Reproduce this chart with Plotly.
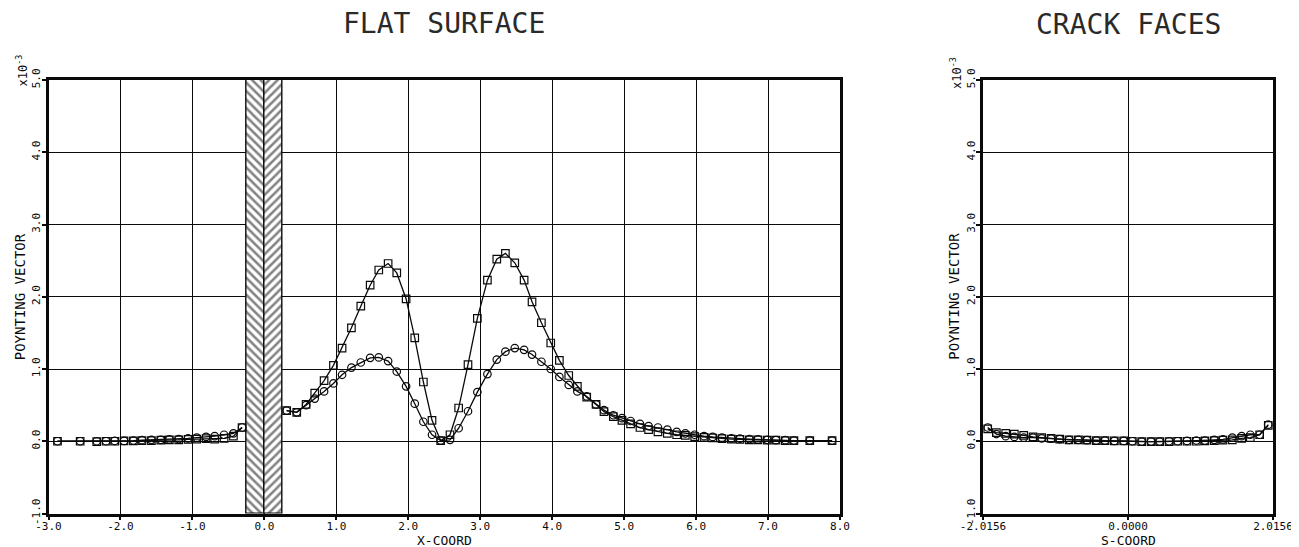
import plotly.graph_objects as go

# ---------------- data (values in units of 1e-3) ----------------
X_FLAT = [-2.875, -2.56, -2.33, -2.20, -2.08, -1.95, -1.82, -1.70, -1.57, -1.44,
          -1.32, -1.19, -1.06, -0.94, -0.81, -0.69, -0.56, -0.43, -0.31,
          0.31, 0.45, 0.58, 0.70, 0.83, 0.96, 1.08, 1.21, 1.34, 1.47,
          1.59, 1.72, 1.84, 1.97, 2.09, 2.21, 2.33, 2.45, 2.58, 2.70,
          2.83, 2.96, 3.10, 3.23, 3.35, 3.48, 3.61, 3.72, 3.85, 3.98,
          4.10, 4.23, 4.35, 4.48, 4.61, 4.72, 4.85, 4.97, 5.09, 5.22,
          5.34, 5.47, 5.60, 5.73, 5.85, 5.98, 6.11, 6.23, 6.36, 6.49,
          6.61, 6.74, 6.86, 6.99, 7.11, 7.24, 7.36, 7.58, 7.89]

SQ_FLAT = [0.0, 0.0, -0.005, 0.0, 0.0, 0.005, 0.005, 0.01, 0.01, 0.015,
           0.02, 0.02, 0.025, 0.03, 0.035, 0.03, 0.04, 0.07, 0.19,
           0.425, 0.40, 0.51, 0.665, 0.84, 1.05, 1.29, 1.57, 1.87, 2.16,
           2.37, 2.46, 2.33, 1.97, 1.43, 0.82, 0.29, 0.01, 0.09, 0.46,
           1.06, 1.70, 2.23, 2.52, 2.60, 2.47, 2.23, 1.93, 1.64, 1.36,
           1.12, 0.91, 0.76, 0.61, 0.51, 0.41, 0.34, 0.29, 0.24, 0.19,
           0.16, 0.13, 0.11, 0.09, 0.08, 0.065, 0.055, 0.045, 0.035, 0.03,
           0.025, 0.02, 0.02, 0.015, 0.015, 0.01, 0.01, 0.01, 0.01]

CI_FLAT = [0.0, 0.0, 0.0, 0.0, 0.005, 0.005, 0.01, 0.015, 0.02, 0.02,
           0.025, 0.03, 0.04, 0.05, 0.06, 0.07, 0.09, 0.11, 0.19,
           0.425, 0.40, 0.50, 0.59, 0.69, 0.80, 0.92, 1.02, 1.09, 1.155,
           1.16, 1.11, 0.965, 0.76, 0.52, 0.27, 0.09, 0.01, 0.02, 0.18,
           0.415, 0.68, 0.93, 1.13, 1.24, 1.29, 1.265, 1.20, 1.10, 1.00,
           0.89, 0.78, 0.69, 0.62, 0.51, 0.43, 0.36, 0.32, 0.28, 0.24,
           0.21, 0.19, 0.16, 0.13, 0.11, 0.09, 0.07, 0.06, 0.05, 0.04,
           0.035, 0.03, 0.025, 0.02, 0.015, 0.015, 0.01, 0.01, 0.01]

X_CRACK = [-1.95, -1.83, -1.70, -1.58, -1.45, -1.32, -1.20, -1.07, -0.95, -0.82,
           -0.69, -0.57, -0.44, -0.32, -0.19, -0.06, 0.06, 0.19, 0.32, 0.44,
           0.57, 0.69, 0.82, 0.95, 1.07, 1.20, 1.32, 1.45, 1.58, 1.70,
           1.83, 1.95]
SQ_CRACK = [0.17, 0.12, 0.11, 0.10, 0.08, 0.06, 0.05, 0.04, 0.03, 0.02,
            0.02, 0.015, 0.01, 0.01, 0.005, 0.005, 0.0, -0.005, -0.005, -0.005,
            -0.005, 0.0, 0.0, 0.0, 0.005, 0.01, 0.015, 0.02, 0.04, 0.05,
            0.09, 0.22]
CI_CRACK = [0.19, 0.10, 0.07, 0.06, 0.05, 0.05, 0.04, 0.035, 0.03, 0.02,
            0.02, 0.015, 0.01, 0.01, 0.005, 0.005, 0.0, -0.005, -0.005, -0.005,
            0.0, 0.0, 0.005, 0.01, 0.01, 0.02, 0.025, 0.05, 0.07, 0.09,
            0.09, 0.23]

# crack zone (hatched band) on the flat surface
CRACK_CENTER = 0.0
CRACK_HALVES = [-0.125, 0.125]
CRACK_HALF_W = 0.25
CRACK_PATTERNS = ["\\", "/"]

X_TICKS_FLAT = [-3, -2, -1, 0, 1, 2, 3, 4, 5, 6, 7, 8]
X_TICKTEXT_FLAT = ["-3.0", "-2.0", "-1.0", "0.0", "1.0", "2.0", "3.0", "4.0", "5.0", "6.0", "7.0", "8.0"]
X_TICKS_CRACK = [-2.0156, 0.0, 2.0156]
X_TICKTEXT_CRACK = ["-2.0156", "0.0000", "2.0156"]
Y_TICKS = [-1, 0, 1, 2, 3, 4, 5]
Y_TICKTEXT = ["-1.0", "0.0", "1.0", "2.0", "3.0", "4.0", "5.0"]

# ---------------- figure ----------------
PAGE_MARGIN = 8            # default body margin of the html page
WIN_W, WIN_H = 1299, 547
W, H = WIN_W - PAGE_MARGIN, WIN_H - PAGE_MARGIN
FONT = "DejaVu Sans Mono"
INK = "#0a0a0a"

fig = go.Figure()

line_style = dict(color=INK, width=1.3)
sq_marker = dict(symbol="square-open", size=7.5, color=INK, line=dict(width=1.2, color=INK))
ci_marker = dict(symbol="circle-open", size=7.5, color=INK, line=dict(width=1.2, color=INK))

# hatched crack band
fig.add_trace(go.Bar(x=CRACK_HALVES, y=[6, 6], base=[-1, -1], width=CRACK_HALF_W,
                     marker=dict(color="white", line=dict(color=INK, width=1.4),
                                 pattern=dict(shape=CRACK_PATTERNS, fgcolor=INK, bgcolor="white",
                                              size=6, solidity=0.42, fillmode="overlay")),
                     xaxis="x", yaxis="y", showlegend=False, hoverinfo="skip"))

# flat-surface curves: one piece on each side of the crack
split = next(i for i, v in enumerate(X_FLAT) if v > CRACK_CENTER)
for ys, mk in ((SQ_FLAT, sq_marker), (CI_FLAT, ci_marker)):
    for sl in (slice(0, split), slice(split, None)):
        fig.add_trace(go.Scatter(x=X_FLAT[sl], y=ys[sl], mode="lines+markers", line=line_style,
                                 marker=mk, xaxis="x", yaxis="y", showlegend=False))

fig.add_trace(go.Scatter(x=X_CRACK, y=SQ_CRACK, mode="lines+markers", line=line_style,
                         marker=sq_marker, xaxis="x2", yaxis="y2", showlegend=False))
fig.add_trace(go.Scatter(x=X_CRACK, y=CI_CRACK, mode="lines+markers", line=line_style,
                         marker=ci_marker, xaxis="x2", yaxis="y2", showlegend=False))

# target pixel positions in the browser window
L1, R1 = 48.5, 840.0
L2, R2 = 983.0, 1273.0
TOP, BOT = 80.0, 513.5

def px_x(p):
    return (p - PAGE_MARGIN) / W

def px_y(p):
    return 1 - (p - PAGE_MARGIN) / H

tickfont = dict(family=FONT, size=11, color=INK)
axis_common = dict(showline=True, linewidth=2.5, linecolor=INK, mirror=True,
                   showgrid=True, gridcolor=INK, gridwidth=1.2,
                   zeroline=True, zerolinecolor=INK, zerolinewidth=1.2,
                   ticks="outside", ticklen=4, tickwidth=1.5, tickcolor=INK,
                   ticklabelstandoff=-3,
                   tickfont=tickfont, fixedrange=True, automargin=False)

fig.update_layout(
    width=W, height=H,
    margin=dict(l=0, r=0, t=0, b=0, autoexpand=False),
    paper_bgcolor="white", plot_bgcolor="white",
    bargap=0,
    xaxis=dict(domain=[px_x(L1), px_x(R1)], range=[-3, 8], anchor="y",
               tickmode="array", tickvals=X_TICKS_FLAT, ticktext=X_TICKTEXT_FLAT,
               **axis_common),
    yaxis=dict(domain=[px_y(BOT), px_y(TOP)], range=[-1, 5], anchor="x",
               tickmode="array", tickvals=Y_TICKS, ticktext=Y_TICKTEXT, tickangle=-90,
               **axis_common),
    xaxis2=dict(domain=[px_x(L2), px_x(R2)], range=[-2.0156, 2.0156], anchor="y2",
                tickmode="array", tickvals=X_TICKS_CRACK, ticktext=X_TICKTEXT_CRACK,
                **axis_common),
    yaxis2=dict(domain=[px_y(BOT), px_y(TOP)], range=[-1, 5], anchor="x2",
                tickmode="array", tickvals=Y_TICKS, ticktext=Y_TICKTEXT, tickangle=-90,
                **axis_common),
)

title_font = dict(family=FONT, size=28, color="#2a2a2a")
label_font = dict(family=FONT, size=14, color=INK)
xlabel_font = dict(family=FONT, size=13, color=INK)
anns = [
    dict(text="FLAT SURFACE", x=px_x((L1 + R1) / 2), y=px_y(24), font=title_font),
    dict(text="CRACK FACES", x=px_x((L2 + R2) / 2), y=px_y(25), font=title_font),
    dict(text="X-COORD", x=px_x((L1 + R1) / 2), y=px_y(540), font=xlabel_font),
    dict(text="S-COORD", x=px_x((L2 + R2) / 2), y=px_y(540), font=xlabel_font),
    dict(text="POYNTING VECTOR", x=px_x(L1 - 29), y=px_y((TOP + BOT) / 2), font=label_font, textangle=-90),
    dict(text="POYNTING VECTOR", x=px_x(L2 - 29), y=px_y((TOP + BOT) / 2), font=label_font, textangle=-90),
    dict(text="x10<sup>-3</sup>", x=px_x(L1 - 27), y=px_y(71), font=dict(family=FONT, size=12, color=INK), textangle=-90),
    dict(text="x10<sup>-3</sup>", x=px_x(L2 - 27), y=px_y(73), font=dict(family=FONT, size=12, color=INK), textangle=-90),
]
for a in anns:
    a.update(xref="paper", yref="paper", showarrow=False, xanchor="center", yanchor="middle")
fig.update_layout(annotations=anns)

fig.write_html("out.html")
